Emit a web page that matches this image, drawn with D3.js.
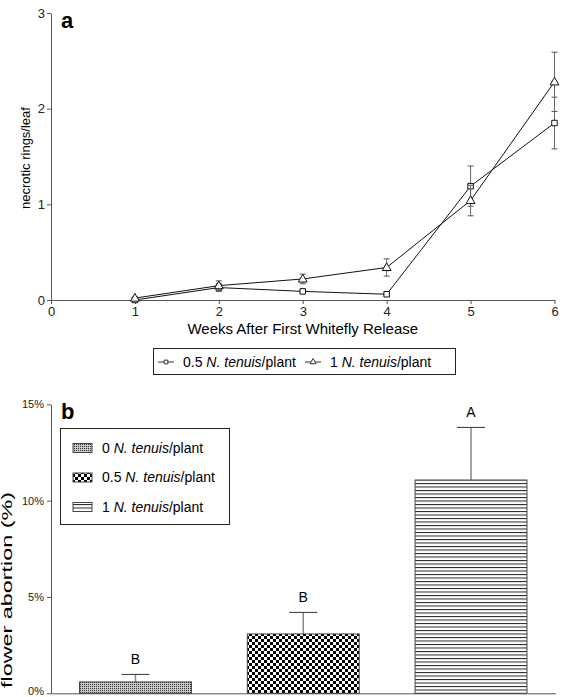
<!DOCTYPE html>
<html>
<head>
<meta charset="utf-8">
<script src="https://cdn.jsdelivr.net/npm/d3@7"></script>
<style>
  body { margin: 0; background: #fff; }
  svg { display: block; font-family: "Liberation Sans", Arial, sans-serif; }
  .axis path, .axis line { stroke: #555; }
  .axis text { fill: #222; }
</style>
</head>
<body>
<div id="chart"></div>
<script>
// panel a data
const weeks = [1, 2, 3, 4, 5, 6];
const halfMean = [0.00, 0.13, 0.09, 0.06, 1.19, 1.85];
const halfErr  = [0.01, 0.04, 0.02, 0.02, 0.21, 0.27];
const oneMean  = [0.02, 0.15, 0.22, 0.34, 1.04, 2.28];
const oneErr   = [0.01, 0.05, 0.05, 0.09, 0.16, 0.31];
const aTicksX = [0, 1, 2, 3, 4, 5, 6];
const aTicksY = [0, 1, 2, 3];

// panel b data
const groups = ["0 N. tenuis/plant", "0.5 N. tenuis/plant", "1 N. tenuis/plant"];
const abortion = [0.59, 3.08, 11.07];
const abortionErr = [0.39, 1.12, 2.73];
const letters = ["B", "B", "A"];
const bTicksY = [0, 5, 10, 15];

const W = 564, H = 697;
const svg = d3.select("#chart").append("svg").attr("width", W).attr("height", H);

// fill patterns for the bars
const defs = svg.append("defs");
const p1 = defs.append("pattern").attr("id", "pat0").attr("patternUnits", "userSpaceOnUse")
  .attr("width", 2).attr("height", 2);
p1.append("rect").attr("width", 2).attr("height", 2).attr("fill", "#c8c8c8");
p1.append("rect").attr("width", 1).attr("height", 1).attr("fill", "#333");

const p2 = defs.append("pattern").attr("id", "pat1").attr("patternUnits", "userSpaceOnUse")
  .attr("width", 6).attr("height", 6);
p2.append("rect").attr("width", 6).attr("height", 6).attr("fill", "#fff");
p2.append("rect").attr("width", 3).attr("height", 3).attr("fill", "#000");
p2.append("rect").attr("x", 3).attr("y", 3).attr("width", 3).attr("height", 3).attr("fill", "#000");

const p3 = defs.append("pattern").attr("id", "pat2").attr("patternUnits", "userSpaceOnUse")
  .attr("width", 4).attr("height", 3.5);
p3.append("rect").attr("width", 4).attr("height", 3.5).attr("fill", "#fff");
p3.append("rect").attr("y", 0).attr("width", 4).attr("height", 1).attr("fill", "#222");

// ---------- panel a ----------
const xA = d3.scaleLinear().domain([0, 6]).range([51, 554.5]);
const yA = d3.scaleLinear().domain([0, 3]).range([300, 13]);

svg.append("g").attr("class", "axis").attr("transform", "translate(0,300)")
  .call(d3.axisBottom(xA).tickValues(aTicksX).tickFormat(d3.format("d")).tickSize(4).tickPadding(3).tickSizeOuter(0))
  .selectAll("text").style("font-size", "13px");
svg.append("g").attr("class", "axis").attr("transform", "translate(51,0)")
  .call(d3.axisLeft(yA).tickValues(aTicksY).tickFormat(d3.format("d")).tickSize(4).tickPadding(2).tickSizeOuter(0))
  .selectAll("text").style("font-size", "13px");

svg.append("text").attr("x", 61).attr("y", 28).attr("font-size", 22).attr("font-weight", "bold").text("a");

svg.append("text").attr("transform", "translate(30,158) rotate(-90)").attr("text-anchor", "middle")
  .attr("font-size", 13).text("necrotic rings/leaf");
svg.append("text").attr("x", xA(3)).attr("y", 334).attr("text-anchor", "middle")
  .attr("font-size", 15).text("Weeks After First Whitefly Release");

const seriesA = [
  { mean: halfMean, err: halfErr, shape: "square" },
  { mean: oneMean, err: oneErr, shape: "triangle" }
];
const line = d3.line().x(d => xA(d.w)).y(d => yA(d.v));
seriesA.forEach(s => {
  const pts = weeks.map((w, i) => ({ w, v: s.mean[i], e: s.err[i] }));
  const g = svg.append("g");
  pts.forEach(p => {
    const x = xA(p.w), y1 = yA(p.v + p.e), y2 = yA(Math.max(0, p.v - p.e));
    g.append("line").attr("x1", x).attr("x2", x).attr("y1", y1).attr("y2", y2).attr("stroke", "#666");
    [y1, y2].forEach(y => g.append("line").attr("x1", x - 3).attr("x2", x + 3).attr("y1", y).attr("y2", y).attr("stroke", "#555"));
  });
  g.append("path").datum(pts).attr("d", line).attr("fill", "none").attr("stroke", "#111").attr("stroke-width", 1);
  const sym = d3.symbol().type(s.shape === "square" ? d3.symbolSquare : d3.symbolTriangle).size(s.shape === "square" ? 30 : 34);
  g.selectAll("path.m").data(pts).join("path").attr("class", "m")
    .attr("transform", d => `translate(${xA(d.w)},${yA(d.v) + (s.shape === "triangle" ? 0.5 : 0)})`)
    .attr("d", sym).attr("fill", "#fff").attr("stroke", "#111").attr("stroke-width", 1);
});

// legend a
const legA = svg.append("g");
legA.append("rect").attr("x", 153.5).attr("y", 348.5).attr("width", 302).attr("height", 26)
  .attr("fill", "#fff").attr("stroke", "#222");
const legAItems = [
  { x: 158, shape: d3.symbolSquare, size: 14, lead: "0.5 " },
  { x: 305, shape: d3.symbolTriangle, size: 16, lead: "1 " }
];
legAItems.forEach(it => {
  legA.append("line").attr("x1", it.x).attr("x2", it.x + 16).attr("y1", 362).attr("y2", 362).attr("stroke", "#333");
  legA.append("path").attr("transform", `translate(${it.x + 8},362)`).attr("d", d3.symbol().type(it.shape).size(it.size)())
    .attr("fill", "#fff").attr("stroke", "#333");
  const t = legA.append("text").attr("x", it.x + 25).attr("y", 367).attr("font-size", 14);
  t.append("tspan").text(it.lead);
  t.append("tspan").attr("font-style", "italic").text("N. tenuis");
  t.append("tspan").text("/plant");
});

// ---------- panel b ----------
const xB = d3.scaleBand().domain(groups).range([51, 555.5]).paddingInner(0.333).paddingOuter(0.17);
const yB = d3.scaleLinear().domain([0, 15]).range([693.3, 404.3]);

svg.append("g").attr("class", "axis").attr("transform", "translate(0,693.3)")
  .call(d3.axisBottom(xB).tickValues([]).tickSizeOuter(0));
const yAxisB = svg.append("g").attr("class", "axis").attr("transform", "translate(51,0)")
  .call(d3.axisLeft(yB).tickValues(bTicksY).tickFormat(d => d + "%").tickSize(4).tickPadding(3).tickSizeOuter(0));
yAxisB.selectAll("text").style("font-size", "11px");
// keep the 0% label inside the page
yAxisB.selectAll(".tick").filter(d => d === 0).select("text").attr("dy", "0.1em");

svg.append("text").attr("x", 61).attr("y", 419).attr("font-size", 22).attr("font-weight", "bold").text("b");
svg.append("text").attr("transform", "translate(12,590) rotate(-90)").attr("text-anchor", "middle")
  .attr("font-size", 14).attr("textLength", 196).attr("lengthAdjust", "spacingAndGlyphs")
  .text("flower abortion (%)");

groups.forEach((gname, i) => {
  const x = xB(gname), bw = xB.bandwidth(), cx = x + bw / 2;
  const yt = yB(abortionErr[i] + abortion[i]);
  svg.append("line").attr("x1", cx).attr("x2", cx).attr("y1", yt).attr("y2", yB(abortion[i])).attr("stroke", "#888").attr("stroke-width", 1.5);
  svg.append("line").attr("x1", cx - 14).attr("x2", cx + 14).attr("y1", yt).attr("y2", yt).attr("stroke", "#333");
  svg.append("rect").attr("x", x).attr("y", yB(abortion[i])).attr("width", bw).attr("height", yB(0) - yB(abortion[i]))
    .attr("fill", `url(#pat${i})`).attr("stroke", "#444");
  svg.append("text").attr("x", cx).attr("y", yt - 10).attr("text-anchor", "middle").attr("font-size", 14).text(letters[i]);
});

// legend b
const legB = svg.append("g");
legB.append("rect").attr("x", 60.5).attr("y", 428.5).attr("width", 169).attr("height", 96)
  .attr("fill", "#fff").attr("stroke", "#222");
groups.forEach((gname, i) => {
  const yc = 447.5 + i * 29.5;
  legB.append("rect").attr("x", 73).attr("y", yc - 4).attr("width", 19).attr("height", 9)
    .attr("fill", `url(#pat${i})`).attr("stroke", "#444");
  const [lead] = gname.split(" N. ");
  const t = legB.append("text").attr("x", 102).attr("y", yc + 5).attr("font-size", 14);
  t.append("tspan").text(lead + " ");
  t.append("tspan").attr("font-style", "italic").text("N. tenuis");
  t.append("tspan").text("/plant");
});
</script>
</body>
</html>
